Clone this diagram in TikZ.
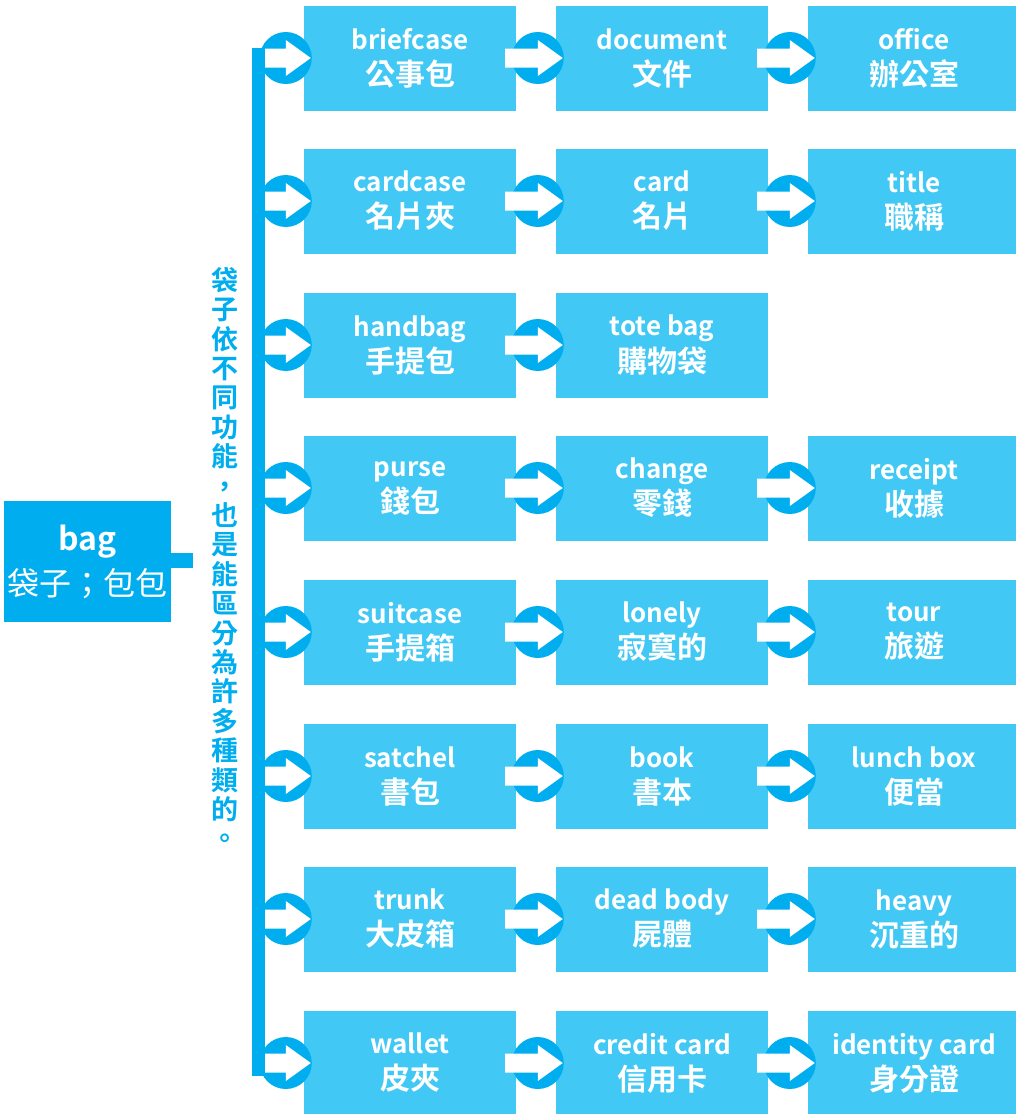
\documentclass[tikz,border=0pt]{standalone}
\usepackage{fontspec}
\usepackage{tikz}
\usetikzlibrary{calc}
\newfontfamily\zhfont{Noto Sans CJK TC}
\newfontfamily\zhbold{Noto Sans CJK TC Bold}
\definecolor{boxblue}{RGB}{66,200,244}
\definecolor{darkblue}{RGB}{0,174,239}
\tikzset{
    wordbox/.style={
        fill=boxblue,
        text=white,
        minimum width=212pt,
        minimum height=105pt,
        inner sep=0pt,
        align=center,
        font=\zhbold\fontsize{26}{36}\selectfont
    },
    rootbox/.style={
        fill=darkblue,
        text=white,
        minimum width=167pt,
        minimum height=121pt,
        inner sep=0pt,
        align=center,
        font=\zhfont\fontsize{32}{45}\selectfont
    },
    % vertical bar on the left
    trunkbar/.style={
        fill=darkblue,
        minimum width=13pt,
        minimum height=1028pt,
        inner sep=0pt
    },
    notetext/.style={
        text=darkblue,
        align=center,
        inner sep=0pt,
        font=\zhbold\fontsize{27}{29.4}\selectfont
    }
}
% two lines in a box: english over chinese
\newcommand{\pair}[2]{#1\\{\fontsize{30}{36}\selectfont #2}}
% round blue mark with a white arrow, from box #1 to box #2
\newcommand{\linkbox}[2]{%
    \fill[darkblue] ($(#2.west)+(-18,0)$) circle (26pt);
    \fill[white] ($(#1.east)+(-11,-9.5)$) -- ($(#2.west)+(-18,-9.5)$) -- ($(#2.west)+(-18,-18)$)
        -- ($(#2.west)+(7,0)$) -- ($(#2.west)+(-18,18)$) -- ($(#2.west)+(-18,9.5)$)
        -- ($(#1.east)+(-11,9.5)$) -- cycle;
}

\begin{document}
\begin{tikzpicture}[x=1pt,y=-1pt]
    \useasboundingbox (0,0) rectangle (1015,1114);

    \node[rootbox] (root) at (87.5,561.5) {{\zhbold bag}\\袋子；包包};
    \coordinate (rootend) at (193,560);
    \draw[darkblue,line width=15pt] (root.east |- rootend) -- (rootend);

    \node[notetext] (note) at (225,558) {袋\\子\\依\\不\\同\\功\\能\\，\\也\\是\\能\\區\\分\\為\\許\\多\\種\\類\\的\\。};

    \node[trunkbar] (bar) at (258.5,562) {};

    \node[wordbox] (b11) at (410,58) {\pair{briefcase}{公事包}};
    \node[wordbox] (b12) at (662,58) {\pair{document}{文件}};
    \node[wordbox] (b13) at (914,58) {\pair{office}{辦公室}};

    \node[wordbox] (b21) at (410,201) {\pair{cardcase}{名片夾}};
    \node[wordbox] (b22) at (662,201) {\pair{card}{名片}};
    \node[wordbox] (b23) at (914,201) {\pair{title}{職稱}};

    \node[wordbox] (b31) at (410,345) {\pair{handbag}{手提包}};
    \node[wordbox] (b32) at (662,345) {\pair{tote bag}{購物袋}};

    \node[wordbox] (b41) at (410,488) {\pair{purse}{錢包}};
    \node[wordbox] (b42) at (662,488) {\pair{change}{零錢}};
    \node[wordbox] (b43) at (914,488) {\pair{receipt}{收據}};

    \node[wordbox] (b51) at (410,632) {\pair{suitcase}{手提箱}};
    \node[wordbox] (b52) at (662,632) {\pair{lonely}{寂寞的}};
    \node[wordbox] (b53) at (914,632) {\pair{tour}{旅遊}};

    \node[wordbox] (b61) at (410,776) {\pair{satchel}{書包}};
    \node[wordbox] (b62) at (662,776) {\pair{book}{書本}};
    \node[wordbox] (b63) at (914,776) {\pair{lunch box}{便當}};

    \node[wordbox] (b71) at (410,919) {\pair{trunk}{大皮箱}};
    \node[wordbox] (b72) at (662,919) {\pair{dead body}{屍體}};
    \node[wordbox] (b73) at (914,919) {\pair{heavy}{沉重的}};

    \node[wordbox] (b81) at (410,1063) {\pair{wallet}{皮夾}};
    \node[wordbox] (b82) at (662,1063) {\pair{credit card}{信用卡}};
    \node[wordbox] (b83) at (914,1063) {\pair{identity card}{身分證}};

    % points on the bar, one per row
    \coordinate (s1) at (bar.east |- b11.west);
    \coordinate (s2) at (bar.east |- b21.west);
    \coordinate (s3) at (bar.east |- b31.west);
    \coordinate (s4) at (bar.east |- b41.west);
    \coordinate (s5) at (bar.east |- b51.west);
    \coordinate (s6) at (bar.east |- b61.west);
    \coordinate (s7) at (bar.east |- b71.west);
    \coordinate (s8) at (bar.east |- b81.west);

    \linkbox{s1}{b11} \linkbox{b11}{b12} \linkbox{b12}{b13}
    \linkbox{s2}{b21} \linkbox{b21}{b22} \linkbox{b22}{b23}
    \linkbox{s3}{b31} \linkbox{b31}{b32}
    \linkbox{s4}{b41} \linkbox{b41}{b42} \linkbox{b42}{b43}
    \linkbox{s5}{b51} \linkbox{b51}{b52} \linkbox{b52}{b53}
    \linkbox{s6}{b61} \linkbox{b61}{b62} \linkbox{b62}{b63}
    \linkbox{s7}{b71} \linkbox{b71}{b72} \linkbox{b72}{b73}
    \linkbox{s8}{b81} \linkbox{b81}{b82} \linkbox{b82}{b83}

    % bar again on top of the arrow tails
    \fill[darkblue] (bar.north west) rectangle (bar.south east);
\end{tikzpicture}
\end{document}
